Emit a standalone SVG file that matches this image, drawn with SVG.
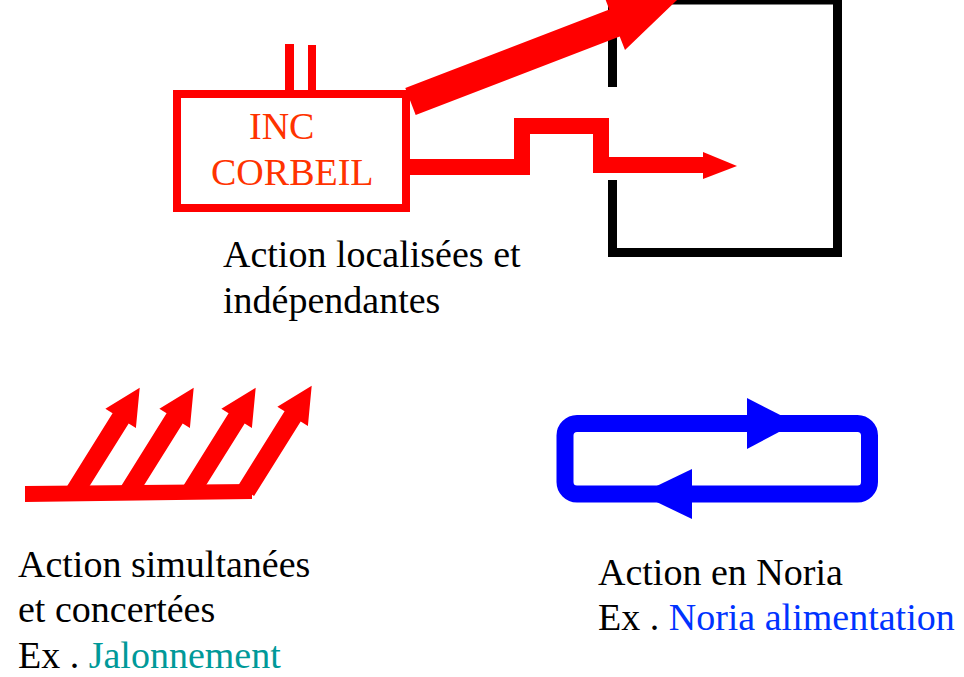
<svg xmlns="http://www.w3.org/2000/svg" xmlns:xlink="http://www.w3.org/1999/xlink" width="964" height="677" viewBox="0 0 964 677">
  <style>
    .lbl { font-family: "Liberation Serif", "Times New Roman", serif; font-size: 38px; fill: #000; }
    .inc { font-family: "Liberation Serif", "Times New Roman", serif; font-size: 38px; fill: #ff3300; }
    .red { fill: #ff0000; }
    .redline { fill: none; stroke: #ff0000; stroke-linejoin: miter; }
  </style>
  <defs>
    <path id="slantArrow" d="M0,-9.5 H88 V-18 L124,0 L88,18 V9.5 H0 Z" fill="#ff0000"/>
  </defs>
  <rect width="964" height="677" fill="#ffffff"/>

  <g id="zone">
    <path d="M612.5,87 V0 H837.5 V252.5 H612.5 V180" fill="none" stroke="#000" stroke-width="9" stroke-linejoin="miter"/>
  </g>

  <g id="inc-corbeil">
    <rect x="177" y="94" width="229" height="114" fill="none" stroke="#ff0000" stroke-width="8"/>
    <rect x="285" y="44" width="9" height="48" class="red"/>
    <rect x="308" y="45" width="8" height="47" class="red"/>
    <text class="inc" x="249" y="139">INC</text>
    <text class="inc" x="211" y="185">CORBEIL</text>
  </g>

  <g id="connectors">
    <polygon class="red" points="405.3,88 609.3,9.5 604.1,-4.1 678.8,-1.7 625,50 619.7,36.5 415.7,115"/>
    <path class="redline" stroke-width="16" d="M410,167 H522 V126 H601 V165 H705"/>
    <polygon class="red" points="703,152 737,166 703,179"/>
  </g>

  <g id="simultanees">
    <polygon class="red" points="25,486 252,484 252,499 25,502"/>
    <use xlink:href="#slantArrow" transform="translate(74,493) rotate(-58)"/>
    <use xlink:href="#slantArrow" transform="translate(128,493) rotate(-58)"/>
    <use xlink:href="#slantArrow" transform="translate(190,493) rotate(-58)"/>
    <use xlink:href="#slantArrow" transform="translate(246,491) rotate(-58)"/>
  </g>

  <g id="noria">
    <rect x="565" y="423.5" width="304.5" height="70.5" rx="12" ry="12" fill="none" stroke="#0000ff" stroke-width="17"/>
    <polygon points="747,398 796,423 747,449" fill="#0000ff"/>
    <polygon points="692,469 640,494 692,519" fill="#0000ff"/>
  </g>

  <g id="labels">
    <text class="lbl" x="223" y="267">Action localisées et</text>
    <text class="lbl" x="223" y="313">indépendantes</text>
    <text class="lbl" x="18" y="577">Action simultanées</text>
    <text class="lbl" x="18" y="622">et concertées</text>
    <text class="lbl" x="18" y="668">Ex . <tspan fill="#009999">Jalonnement</tspan></text>
    <text class="lbl" x="598" y="585">Action en Noria</text>
    <text class="lbl" x="598" y="630">Ex . <tspan fill="#0033ff">Noria alimentation</tspan></text>
  </g>
</svg>
